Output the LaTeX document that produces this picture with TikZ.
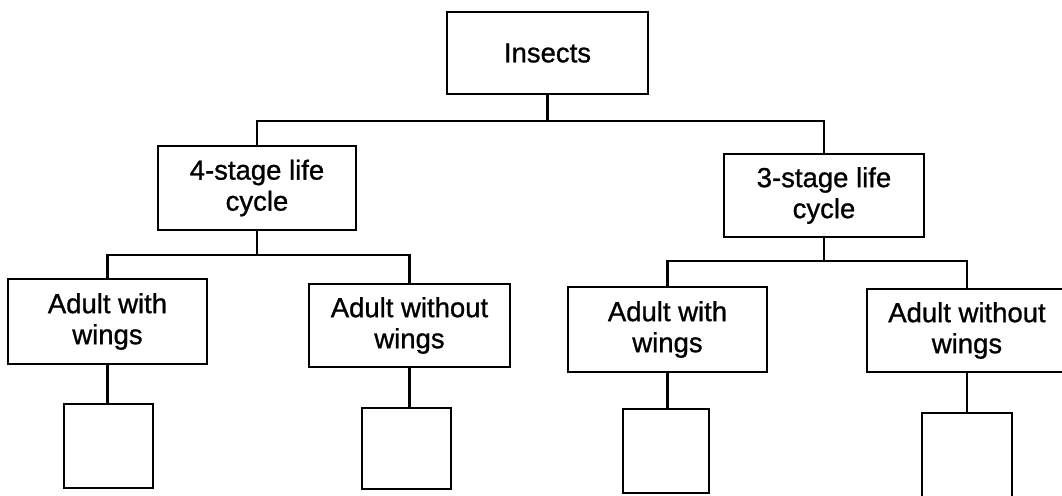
\documentclass[tikz,border=0pt]{standalone}
\usepackage{fontspec}
\setmainfont{Liberation Sans}[UprightFeatures={FakeBold=1}]
\begin{document}
\begin{tikzpicture}[x=1pt,y=-1pt,
  box/.style={draw=black,line width=2.6pt,inner sep=0pt,align=center,
    font=\fontsize{27.5}{31}\selectfont,anchor=center},
  conn/.style={draw=black,line width=2.8pt}]
\useasboundingbox (0,0) rectangle (1062,495);
\clip (0,0) rectangle (1062,495);
\fill[white] (0,0) rectangle (1062,495);
\node[box,minimum width=201pt,minimum height=82pt] (ins) at (547.5,53) {Insects};
\node[box,minimum width=198pt,minimum height=84pt] (s4) at (257,188) {4-stage life\\cycle};
\node[box,minimum width=200pt,minimum height=83pt] (s3) at (824,195.5) {3-stage life\\cycle};
\node[box,minimum width=199pt,minimum height=85pt] (a1) at (107.5,321.5) {Adult with\\wings};
\node[box,minimum width=201pt,minimum height=83pt] (a2) at (409.5,325.5) {Adult without\\wings};
\node[box,minimum width=199pt,minimum height=85pt] (a3) at (667.5,329.5) {Adult with\\wings};
\node[box,minimum width=200pt,minimum height=83pt] (a4) at (967,330.5) {Adult without\\wings};
\node[box,minimum width=89pt,minimum height=84pt] (b1) at (108.5,446) {};
\node[box,minimum width=89pt,minimum height=81pt] (b2) at (406.5,448.5) {};
\node[box,minimum width=86pt,minimum height=84pt] (b3) at (666,451) {};
\node[box,minimum width=90pt,minimum height=84pt] (b4) at (967,455) {};
\coordinate (j0) at (547.5,121);
\coordinate (j1) at (257,255);
\coordinate (j2) at (824,261);
\draw[conn] (ins.south) -- (j0);
\draw[conn] (s4.north) |- (j0) -| (s3.north);
\draw[conn] (s4.south) -- (j1);
\draw[conn] (a1.north) |- (j1) -| (a2.north);
\draw[conn] (s3.south) -- (j2);
\draw[conn] (a3.north) |- (j2) -| (a4.north);
\draw[conn] (a1.south) -- (a1.south |- b1.north);
\draw[conn] (a2.south) -- (a2.south |- b2.north);
\draw[conn] (a3.south) -- (a3.south |- b3.north);
\draw[conn] (a4.south) -- (a4.south |- b4.north);
\end{tikzpicture}
\end{document}
